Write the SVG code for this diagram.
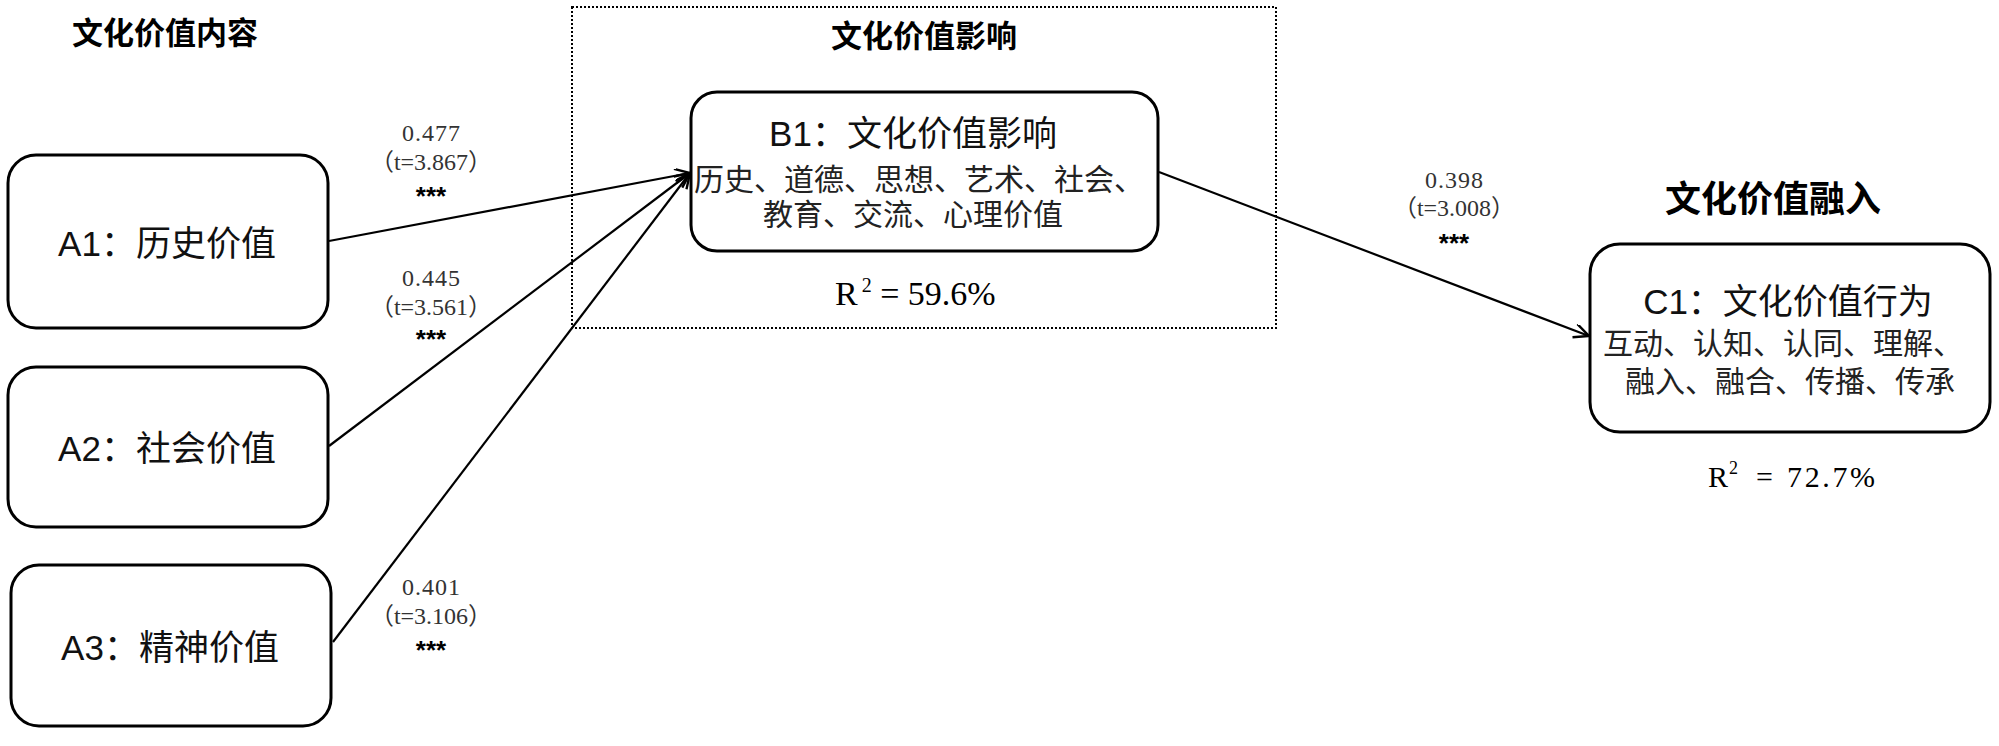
<svg xmlns="http://www.w3.org/2000/svg" width="1999" height="746" viewBox="0 0 1999 746">
<style>
.box{fill:#fff;stroke:#000;stroke-width:3}
.title{font-family:"Noto Sans CJK SC",sans-serif;font-weight:bold;fill:#000;text-anchor:middle}
.big{font-family:"Liberation Sans","Noto Sans CJK SC",sans-serif;font-size:35px;fill:#111;text-anchor:middle}
.sub{font-family:"Noto Sans CJK SC",sans-serif;font-size:30px;fill:#222;text-anchor:middle}
.num{font-family:"Liberation Serif","Noto Sans CJK SC",serif;font-size:24px;fill:#333;text-anchor:middle}
.star{font-family:"Liberation Sans",sans-serif;font-weight:bold;font-size:26px;fill:#000;text-anchor:middle}
.r2{font-family:"Liberation Serif",serif;fill:#000}
.edge{stroke:#000;stroke-width:2.2;fill:none;marker-end:url(#arr)}
</style>
<defs>
<marker id="arr" markerUnits="userSpaceOnUse" markerWidth="20" markerHeight="20" refX="16" refY="7" orient="auto">
<path d="M1,0 L16,7 L1,14" fill="none" stroke="#000" stroke-width="2.4"/>
</marker>
</defs>
<rect width="1999" height="746" fill="#fff"/>

<g id="group-B">
<rect x="572" y="7" width="704" height="321" fill="none" stroke="#000" stroke-width="2" stroke-dasharray="2,2"/>
<text class="title" x="924" y="47" font-size="31">文化价值影响</text>
</g>

<g id="title-A"><text class="title" x="165" y="44" font-size="31">文化价值内容</text></g>
<g id="title-C"><text class="title" x="1773" y="212" font-size="36">文化价值融入</text></g>

<g id="connectors">
<line class="edge" x1="329" y1="241" x2="690" y2="173"/>
<line class="edge" x1="329" y1="446" x2="690" y2="173"/>
<line class="edge" x1="333" y1="642" x2="690" y2="173"/>
<line class="edge" x1="1159" y1="172" x2="1589" y2="336"/>
<text class="num" x="431" y="141" textLength="58">0.477</text>
<text class="num" x="431" y="170">（t=3.867）</text>
<text class="star" x="431" y="205">***</text>
<text class="num" x="431" y="286" textLength="58">0.445</text>
<text class="num" x="431" y="315">（t=3.561）</text>
<text class="star" x="431" y="348">***</text>
<text class="num" x="431" y="595" textLength="58">0.401</text>
<text class="num" x="431" y="624">（t=3.106）</text>
<text class="star" x="431" y="659">***</text>
<text class="num" x="1454" y="188" textLength="58">0.398</text>
<text class="num" x="1454" y="216">（t=3.008）</text>
<text class="star" x="1454" y="252">***</text>
</g>

<g id="A1">
<rect class="box" x="8" y="155" width="320" height="173" rx="28"/>
<text class="big" x="167" y="256">A1：历史价值</text>
</g>
<g id="A2">
<rect class="box" x="8" y="367" width="320" height="160" rx="28"/>
<text class="big" x="167" y="461">A2：社会价值</text>
</g>
<g id="A3">
<rect class="box" x="11" y="565" width="320" height="161" rx="28"/>
<text class="big" x="170" y="660">A3：精神价值</text>
</g>

<g id="B1">
<rect class="box" x="691" y="92" width="467" height="159" rx="26"/>
<text class="big" x="913" y="146">B1：文化价值影响</text>
<text class="sub" x="919" y="190">历史、道德、思想、艺术、社会、</text>
<text class="sub" x="913" y="225">教育、交流、心理价值</text>
<text class="r2" x="835" y="305" font-size="34">R<tspan dx="4" dy="-13" font-size="20">2</tspan><tspan dy="13"> = 59.6%</tspan></text>
</g>

<g id="C1">
<rect class="box" x="1590" y="244" width="400" height="188" rx="30"/>
<text class="big" x="1788" y="314">C1：文化价值行为</text>
<text class="sub" x="1783" y="354">互动、认知、认同、理解、</text>
<text class="sub" x="1790" y="392" font-size="31">融入、融合、传播、传承</text>
<text class="r2" x="1708" y="487" font-size="30">R<tspan x="1729" y="474" font-size="18">2</tspan><tspan x="1756" y="487">=</tspan><tspan x="1787" y="487" textLength="88">72.7%</tspan></text>
</g>
</svg>
